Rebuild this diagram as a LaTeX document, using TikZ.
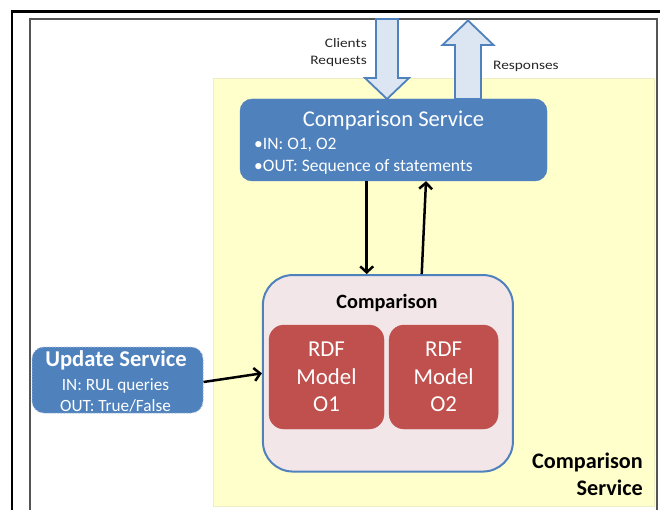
\documentclass[tikz,border=0pt]{standalone}
\usepackage{fontspec}
\setmainfont{Carlito}
\usetikzlibrary{arrows.meta,calc}
\definecolor{cblue}{HTML}{4F81BD}
\definecolor{cred}{HTML}{C0504D}
\definecolor{cpink}{HTML}{F2E6E8}
\definecolor{cyel}{HTML}{FFFFCC}
\definecolor{cyeledge}{HTML}{EEEEC4}
\definecolor{carr}{HTML}{DCE6F2}
\definecolor{cdot}{HTML}{9BB7DA}
\definecolor{cframe}{HTML}{555555}
\newcommand{\fsz}[1]{\fontsize{#1}{#1}\selectfont}
\tikzset{
  svcbox/.style={rectangle, rounded corners=12pt, fill=cblue, draw=cblue, inner sep=0pt},
  rdfbox/.style={rectangle, rounded corners=15pt, fill=cred, draw=cred, inner sep=0pt,
    text=white, align=center, font=\fontsize{22.8}{27.3}\selectfont},
  compbox/.style={rectangle, rounded corners=30pt, fill=cpink, draw=cblue, line width=2pt, inner sep=0pt},
  blockarrow/.style={fill=carr, draw=cblue, line width=1.8pt, line join=miter},
  conn/.style={draw=black, line width=2.5pt, -{Straight Barb[length=6pt,width=13pt]}},
  wtext/.style={text=white, inner sep=0pt},
  ktext/.style={text=black, inner sep=0pt},
  smalllabel/.style={text=black!85, inner sep=0pt, font=\fsz{13}}
}
\begin{document}
\begin{tikzpicture}[x=1pt,y=-1pt]
\useasboundingbox (0,0) rectangle (660,510);
\fill[white] (0,0) rectangle (660,510);
% frames
\draw[line width=2.6pt, black] (12,512) -- (12,11.3) -- (662,11.3);
\draw[line width=1.8pt, cframe] (30,512) -- (30,19) -- (657,19) -- (657,512);
% yellow panel
\fill[cyel, draw=cyeledge, line width=0.8pt] (213,78) rectangle (654,506);
% block arrows
\draw[blockarrow] (376,19) -- (398,19) -- (398,78) -- (409,78) -- (387,99) -- (365,78) -- (376,78) -- cycle;
\draw[blockarrow] (455,99) -- (481,99) -- (481,45) -- (493.5,45) -- (468,20.5) -- (442.5,45) -- (455,45) -- cycle;
\node[smalllabel, anchor=base east] (lclients) at (367,47.3) {\scalebox{1.18}[1]{Clients}};
\node[smalllabel, anchor=base east] (lrequests) at (367,65) {\scalebox{1.18}[1]{Requests}};
\node[smalllabel, anchor=base west] (lresp) at (493,69.3) {\scalebox{1.18}[1]{Responses}};
% comparison service box
\node[svcbox, minimum width=307pt, minimum height=82pt] (cs) at (393.5,140) {};
\node[wtext, anchor=base, font=\fsz{22.6}] (cstitle) at (393.5,126.7) {Comparison Service};
\node[wtext, anchor=base west, font=\fsz{17.5}] (csin) at (254,149.3) {•IN: O1, O2};
\node[wtext, anchor=base west, font=\fsz{17.5}] (csout) at (254,171.7) {•OUT: Sequence of statements};
% comparison box
\node[compbox, minimum width=250pt, minimum height=196.5pt] (comp) at (387.9,373.3) {};
\node[ktext, anchor=base, font=\bfseries\fsz{20.3}] (comptitle) at (387,308.3) {Comparison};
\node[rdfbox, minimum width=115pt, minimum height=104pt] (rdf1) at (326.5,377) {RDF\\Model\\O1};
\node[rdfbox, minimum width=109pt, minimum height=104pt] (rdf2) at (443.6,377) {RDF\\Model\\O2};
% update service
\node[svcbox, draw=cdot, dotted, line width=1pt, minimum width=171pt, minimum height=66pt] (us) at (117.5,380) {};
\node[wtext, anchor=base, font=\bfseries\fsz{22.6}] (ustitle) at (116,366.7) {Update Service};
\node[wtext, anchor=base, font=\fsz{17.2}] (usin) at (115.5,390) {IN: RUL queries};
\node[wtext, anchor=base, font=\fsz{17.2}] (usout) at (115.5,411) {OUT: True/False};
% bottom right label
\node[ktext, anchor=base east, font=\bfseries\fsz{22.2}] (cslab1) at (643,468.3) {Comparison};
\node[ktext, anchor=base east, font=\bfseries\fsz{22.2}] (cslab2) at (643,495) {Service};
% connectors
\coordinate (xa) at (366.7,0);
\coordinate (xb) at (421.7,0);
\coordinate (xc) at (426,0);
\draw[conn] (cs.south -| xa) -- (comp.north -| xa);
\draw[conn] (comp.north -| xb) -- (cs.south -| xc);
\draw[conn] ([yshift=-2pt]us.east) -- (comp.west);
\end{tikzpicture}
\end{document}
